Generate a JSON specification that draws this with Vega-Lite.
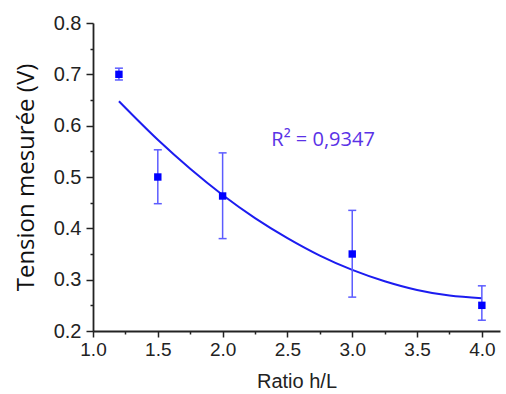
{
  "$schema": "https://vega.github.io/schema/vega-lite/v6.json",
  "width": 407,
  "height": 308,
  "autosize": "none",
  "padding": {"left": 93, "top": 23, "right": 6, "bottom": 63},
  "background": "white",
  "config": {"view": {"stroke": null}},
  "datasets": {
    "pts": [
      {"ratio": 1.2, "tension": 0.70, "lo": 0.689, "hi": 0.712},
      {"ratio": 1.5, "tension": 0.50, "lo": 0.448, "hi": 0.553},
      {"ratio": 2.0, "tension": 0.463, "lo": 0.380, "hi": 0.547},
      {"ratio": 3.0, "tension": 0.350, "lo": 0.266, "hi": 0.435},
      {"ratio": 4.0, "tension": 0.250, "lo": 0.221, "hi": 0.288}
    ],
    "fit": [
      {"ratio": 1.2, "tension": 0.6475},
      {"ratio": 1.5, "tension": 0.5725},
      {"ratio": 1.75, "tension": 0.516},
      {"ratio": 2.0, "tension": 0.465},
      {"ratio": 2.25, "tension": 0.420},
      {"ratio": 2.5, "tension": 0.381},
      {"ratio": 2.75, "tension": 0.347},
      {"ratio": 3.0, "tension": 0.319},
      {"ratio": 3.25, "tension": 0.297},
      {"ratio": 3.5, "tension": 0.280},
      {"ratio": 3.75, "tension": 0.269},
      {"ratio": 4.0, "tension": 0.264}
    ],
    "label": [
      {"ratio": 2.775, "tension": 0.573, "text": "R² = 0,9347"}
    ]
  },
  "encoding": {
    "x": {
      "field": "ratio", "type": "quantitative",
      "scale": {"domain": [1, 4.14], "nice": false, "zero": false},
      "axis": {
        "title": "Ratio h/L",
        "values": [1, 1.25, 1.5, 1.75, 2, 2.25, 2.5, 2.75, 3, 3.25, 3.5, 3.75, 4],
        "format": ".1f",
        "labelExpr": "round(datum.value*4) % 2 == 0 ? datum.label : ''",
        "labelFlush": false,
        "labelOverlap": false,
        "tickSize": {"condition": {"test": "round(datum.value*4) % 2 == 0", "value": 6}, "value": 3},
        "tickColor": "#222", "tickWidth": 1.5,
        "domainColor": "#222", "domainWidth": 1.8,
        "grid": false,
        "labelFont": "Liberation Sans", "labelFontSize": 19, "labelColor": "#222", "labelPadding": 3,
        "titleFont": "Liberation Sans", "titleFontSize": 20, "titleFontWeight": "normal", "titleColor": "#222", "titlePadding": 12
      }
    },
    "y": {
      "field": "tension", "type": "quantitative",
      "scale": {"domain": [0.2, 0.8], "nice": false, "zero": false},
      "axis": {
        "title": "Tension mesurée (V)",
        "values": [0.2, 0.25, 0.3, 0.35, 0.4, 0.45, 0.5, 0.55, 0.6, 0.65, 0.7, 0.75, 0.8],
        "format": ".1f",
        "labelExpr": "round(datum.value*20) % 2 == 0 ? datum.label : ''",
        "labelFlush": false,
        "labelOverlap": false,
        "tickSize": {"condition": {"test": "round(datum.value*20) % 2 == 0", "value": 7}, "value": 3},
        "tickColor": "#222", "tickWidth": 1.5,
        "domainColor": "#222", "domainWidth": 1.8,
        "grid": false,
        "labelFont": "Liberation Sans", "labelFontSize": 20, "labelColor": "#222", "labelPadding": 5,
        "titleFont": "Open Sans", "titleFontSize": 24, "titleFontWeight": "normal", "titleColor": "#111", "titlePadding": 15
      }
    }
  },
  "layer": [
    {
      "data": {"name": "fit"},
      "mark": {"type": "line", "color": "#1c1cf0", "strokeWidth": 2, "interpolate": "monotone"},
      "encoding": {}
    },
    {
      "data": {"name": "pts"},
      "mark": {"type": "rule", "color": "#5c5cff", "strokeWidth": 1.5},
      "encoding": {"y": {"field": "lo", "type": "quantitative"}, "y2": {"field": "hi"}}
    },
    {
      "data": {"name": "pts"},
      "mark": {"type": "tick", "orient": "horizontal", "color": "#5c5cff", "size": 8, "thickness": 1.5, "opacity": 1},
      "encoding": {"y": {"field": "lo", "type": "quantitative"}}
    },
    {
      "data": {"name": "pts"},
      "mark": {"type": "tick", "orient": "horizontal", "color": "#5c5cff", "size": 8, "thickness": 1.5, "opacity": 1},
      "encoding": {"y": {"field": "hi", "type": "quantitative"}}
    },
    {
      "data": {"name": "pts"},
      "mark": {"type": "square", "color": "#0000ff", "size": 55, "filled": true, "opacity": 1},
      "encoding": {}
    },
    {
      "data": {"name": "label"},
      "mark": {"type": "text", "color": "#5a32e6", "font": "Open Sans", "fontSize": 20, "align": "center", "baseline": "middle"},
      "encoding": {"text": {"field": "text"}}
    }
  ]
}
